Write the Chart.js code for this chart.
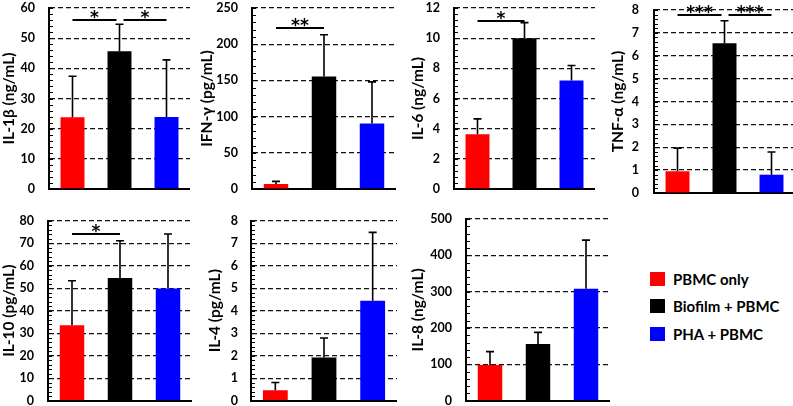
<!DOCTYPE html>
<html>
<head>
<meta charset="utf-8">
<script src="https://cdn.jsdelivr.net/npm/chart.js@4.4.1/dist/chart.umd.min.js"></script>
<style>
html,body{margin:0;padding:0;width:793px;height:406px;overflow:hidden;background:#fff;position:relative;}
canvas{position:absolute;}
.leg{position:absolute;left:650px;height:15px;display:flex;align-items:center;font:bold 15px Lato, "Open Sans", sans-serif;color:#000;white-space:nowrap;}
.leg span.sw{display:inline-block;width:15px;height:14px;margin-right:8px;}
</style>
</head>
<body>
<script>
// ---- data ----
const categories = ["PBMC only", "Biofilm + PBMC", "PHA + PBMC"];
const barColors = ["#ff0000", "#000000", "#0000ff"];

const il1bMean = [23.8, 45.7, 23.9];
const il1bSd   = [13.6, 8.9, 18.9];
const il1bSig  = [[0, 1, "*", 56], [1, 2, "*", 56]];

const ifngMean = [6.9, 155.5, 90.4];
const ifngSd   = [3.6, 57.5, 57.6];
const ifngSig  = [[0, 1, "**", 222]];

const il6Mean = [3.63, 10.0, 7.2];
const il6Sd   = [1.02, 1.03, 0.99];
const il6Sig  = [[0, 1, "*", 11.14]];

const tnfaMean = [0.95, 6.55, 0.8];
const tnfaSd   = [1.01, 0.98, 0.99];
const tnfaSig  = [[0, 1, "***", 7.78], [1, 2, "***", 7.78]];

const il10Mean = [33.5, 54.5, 49.9];
const il10Sd   = [19.8, 16.6, 24.2];
const il10Sig  = [[0, 1, "*", 74.2]];

const il4Mean = [0.47, 1.92, 4.44];
const il4Sd   = [0.34, 0.87, 3.04];
const il4Sig  = [];

const il8Mean = [98, 156, 308];
const il8Sd   = [37, 32, 134];
const il8Sig  = [];

const axisTitles = ["IL-1β (ng/mL)", "IFN-γ (pg/mL)", "IL-6 (ng/mL)", "TNF-α (ng/mL)", "IL-10 (pg/mL)", "IL-4 (pg/mL)", "IL-8 (ng/mL)"];
const axisMax  = [60, 250, 12, 8, 80, 8, 500];
const axisStep = [10, 50, 2, 1, 10, 1, 100];

// ---- layout (positions only) ----
const layout = [
  {left:0,   width:190, axisX:49,  plotTop:8,     plotBottom:189,   pad:14},
  {left:198, width:198, axisX:252, plotTop:8,     plotBottom:189,   pad:14},
  {left:409, width:186, axisX:454, plotTop:8,     plotBottom:189,   pad:14},
  {left:609, width:186, axisX:654, plotTop:10,    plotBottom:193,   pad:15},
  {left:0,   width:192, axisX:48,  plotTop:220.7, plotBottom:400.7, pad:14},
  {left:206, width:191, axisX:251, plotTop:220.7, plotBottom:400.7, pad:13},
  {left:409, width:201, axisX:466, plotTop:219,   plotBottom:400.7, pad:14}
];
const MARGIN = 34;

const means = [il1bMean, ifngMean, il6Mean, tnfaMean, il10Mean, il4Mean, il8Mean];
const sds   = [il1bSd, ifngSd, il6Sd, tnfaSd, il10Sd, il4Sd, il8Sd];
const sigs  = [il1bSig, ifngSig, il6Sig, tnfaSig, il10Sig, il4Sig, il8Sig];

const annot = {
  id: 'annot',
  afterDatasetsDraw(chart, args, opts) {
    const ctx = chart.ctx, y = chart.scales.y, area = chart.chartArea;
    const meta = chart.getDatasetMeta(0);
    const mean = chart.data.datasets[0].data;
    ctx.save();
    // error bars
    ctx.strokeStyle = '#000';
    ctx.lineWidth = 1.6;
    meta.data.forEach((el, i) => {
      const top = y.getPixelForValue(mean[i] + opts.sd[i]);
      ctx.beginPath();
      ctx.moveTo(el.x, el.y);
      ctx.lineTo(el.x, top);
      ctx.moveTo(el.x - 4, top);
      ctx.lineTo(el.x + 4, top);
      ctx.stroke();
    });
    // minor ticks
    ctx.lineWidth = 1;
    ctx.beginPath();
    const minor = opts.step / 5;
    for (let k = 0; k * minor <= y.max + 1e-9; k++) {
      const py = Math.round(y.getPixelForValue(k * minor)) + 0.5;
      ctx.moveTo(area.left, py);
      ctx.lineTo(area.left + 4, py);
    }
    ctx.stroke();
    // significance brackets
    ctx.lineWidth = 2;
    ctx.fillStyle = '#000';
    ctx.font = 'bold 17px "DejaVu Sans", sans-serif';
    ctx.textAlign = 'center';
    ctx.textBaseline = 'alphabetic';
    opts.sig.forEach((s, idx) => {
      const [i, j, label, lvl] = s;
      const sharedStart = opts.sig.some((o, k) => k !== idx && o[1] === i);
      const sharedEnd = opts.sig.some((o, k) => k !== idx && o[0] === j);
      const x1 = meta.data[i].x + (sharedStart ? 4 : 0);
      const x2 = meta.data[j].x - (sharedEnd ? 3 : 0);
      const py = Math.round(y.getPixelForValue(lvl));
      ctx.beginPath();
      ctx.moveTo(x1, py);
      ctx.lineTo(x2, py);
      ctx.stroke();
      ctx.fillText(label, (x1 + x2) / 2, py + 3);
    });
    ctx.restore();
  }
};

layout.forEach((L, n) => {
  const top = Math.floor(L.plotTop) - MARGIN;
  const height = Math.ceil(L.plotBottom - L.plotTop) + 2 * MARGIN;
  const c = document.createElement('canvas');
  c.width = L.width; c.height = height;
  c.style.left = L.left + 'px'; c.style.top = top + 'px';
  c.style.width = L.width + 'px'; c.style.height = height + 'px';
  document.body.appendChild(c);
  new Chart(c, {
    type: 'bar',
    data: {
      labels: categories,
      datasets: [{data: means[n], backgroundColor: barColors, borderWidth: 0, barPercentage: 0.51, categoryPercentage: 1}]
    },
    options: {
      responsive: false, animation: false, events: [], devicePixelRatio: 1,
      layout: {padding: {left: 0, right: 0, top: L.plotTop - top, bottom: top + height - L.plotBottom}},
      plugins: {
        legend: {display: false}, tooltip: {enabled: false},
        annot: {sd: sds[n], step: axisStep[n], sig: sigs[n]}
      },
      scales: {
        x: {
          ticks: {display: false}, grid: {display: false},
          border: {display: true, color: '#000', width: 2},
          afterFit: s => { s.height = 0; }
        },
        y: {
          min: 0, max: axisMax[n],
          ticks: {stepSize: axisStep[n], color: '#000', padding: L.pad,
                  font: {family: 'Lato', weight: 'bold', size: 12.5}},
          grid: {color: '#111', lineWidth: 1.3, drawTicks: false},
          border: {display: true, color: '#000', width: 2, dash: [5, 3]},
          title: {display: true, text: axisTitles[n], color: '#000', padding: 0,
                  font: {family: 'Lato', weight: 'bold', size: 15.5}},
          afterFit: s => { s.width = L.axisX - L.left; }
        }
      }
    },
    plugins: [annot]
  });
});

// legend
const legTops = [271, 298, 326];
categories.forEach((name, i) => {
  const d = document.createElement('div');
  d.className = 'leg';
  d.style.top = legTops[i] + 'px';
  const sw = document.createElement('span');
  sw.className = 'sw';
  sw.style.background = barColors[i];
  d.appendChild(sw);
  d.appendChild(document.createTextNode(name));
  document.body.appendChild(d);
});
</script>
</body>
</html>
